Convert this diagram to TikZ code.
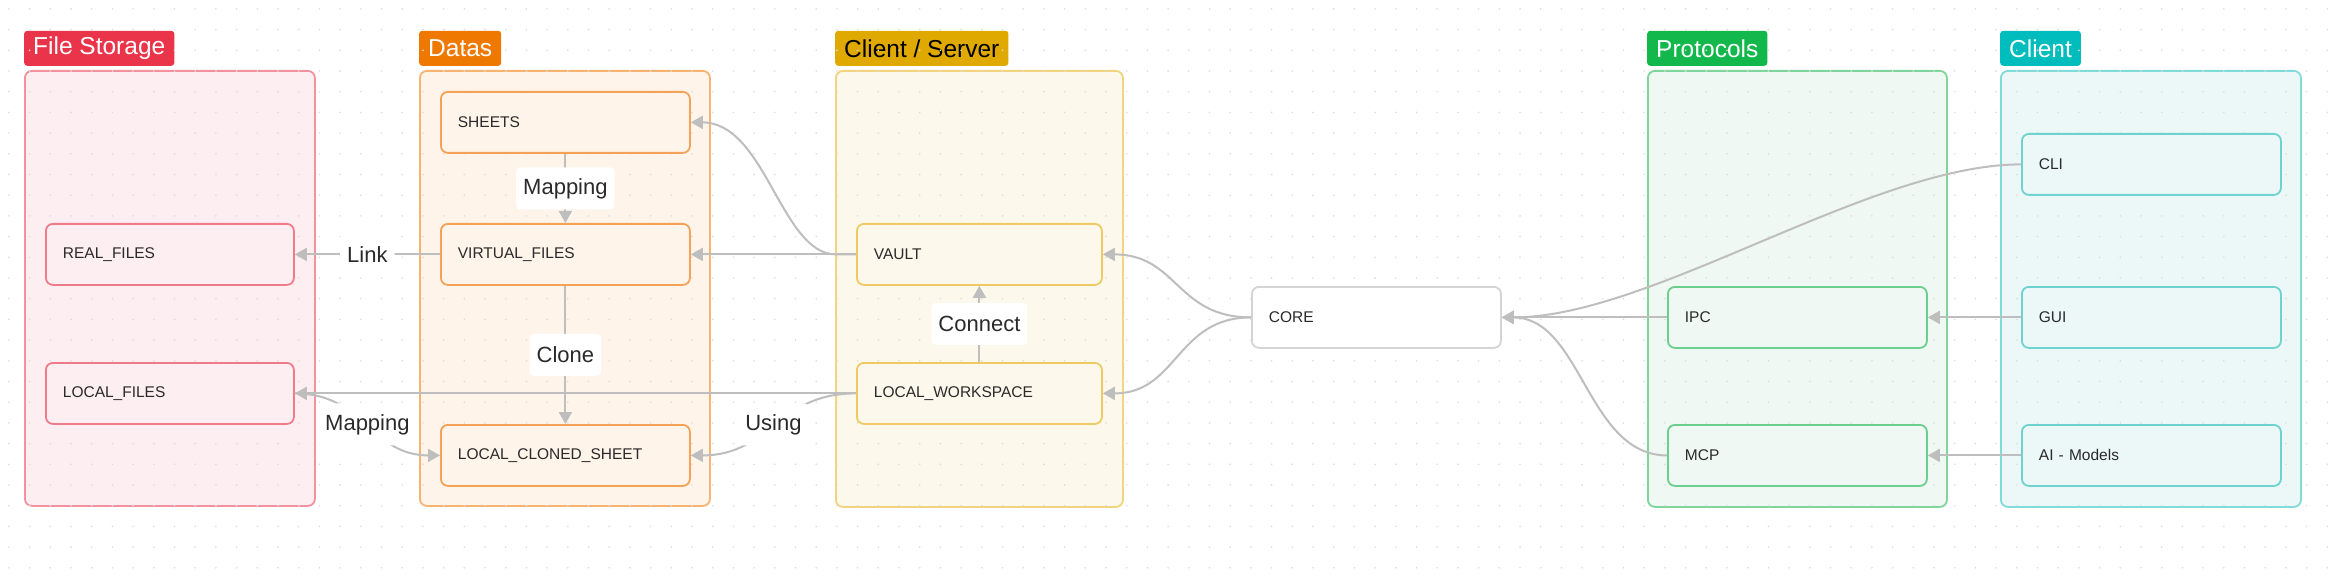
\documentclass[tikz,border=0pt]{standalone}
\usepackage{fontspec}
\setmainfont{Liberation Sans}
\usetikzlibrary{arrows.meta}
\definecolor{edgec}{HTML}{BEBEBE}
\definecolor{dotc}{HTML}{DCDCDC}
\definecolor{txt}{HTML}{2A2A2A}
\definecolor{fsLab}{HTML}{E9344A}
\definecolor{fsFill}{HTML}{FCEEF1}
\definecolor{fsLine}{HTML}{F4919E}
\definecolor{fsNode}{HTML}{F07A8A}
\definecolor{dLab}{HTML}{EF7800}
\definecolor{dFill}{HTML}{FEF4EA}
\definecolor{dLine}{HTML}{F7B471}
\definecolor{dNode}{HTML}{F3A256}
\definecolor{csLab}{HTML}{E0A900}
\definecolor{csFill}{HTML}{FDF8EC}
\definecolor{csLine}{HTML}{F1D47D}
\definecolor{csNode}{HTML}{EECB62}
\definecolor{pLab}{HTML}{12B84B}
\definecolor{pFill}{HTML}{EFF8F2}
\definecolor{pLine}{HTML}{7ED69C}
\definecolor{pNode}{HTML}{6CCF8D}
\definecolor{cLab}{HTML}{00BDBD}
\definecolor{cFill}{HTML}{ECF8F8}
\definecolor{cLine}{HTML}{80DCD8}
\definecolor{cNode}{HTML}{6ED3CF}
\definecolor{coreLine}{HTML}{D4D4D4}
\begin{document}
\begin{tikzpicture}[x=1pt,y=-1pt,
  cont/.style={rounded corners=7pt, line width=1.8pt, anchor=north west, inner sep=0pt},
  grouplab/.style={rounded corners=3pt, anchor=south west, inner xsep=9pt, inner ysep=0pt,
    minimum height=35pt, font=\fontsize{24.5}{28}\selectfont, text=white},
  nd/.style={rounded corners=7pt, line width=1.8pt, anchor=north west, align=left,
    inner xsep=17pt, inner ysep=0pt, minimum height=61pt,
    font=\fontsize{15.5}{18}\selectfont, text=txt},
  ed/.style={draw=edgec, line width=2pt, -{Triangle[length=12pt,width=13pt]}},
  el/.style={fill=white, rounded corners=4pt, inner xsep=7pt, inner ysep=0pt,
    minimum height=42pt, font=\fontsize{22}{26}\selectfont, text=txt}]
\useasboundingbox[fill=white] (0,0) rectangle (2341,585);

% containers
\node[cont, draw=fsLine, fill=fsFill, minimum width=290pt, minimum height=435pt] (fsC) at (24,70) {};
\node[cont, draw=dLine, fill=dFill, minimum width=290pt, minimum height=435pt] (dC) at (419,70) {};
\node[cont, draw=csLine, fill=csFill, minimum width=287pt, minimum height=436pt] (csC) at (835,70) {};
\node[cont, draw=pLine, fill=pFill, minimum width=299pt, minimum height=436pt] (pC) at (1647,70) {};
\node[cont, draw=cLine, fill=cFill, minimum width=300pt, minimum height=436pt] (cC) at (2000,70) {};

% group labels
\node[grouplab, fill=fsLab] (fsL) at (24,66) {File Storage};
\node[grouplab, fill=dLab] (dL) at (419,66) {Datas};
\node[grouplab, fill=csLab, text=black] (csL) at (835,66) {Client / Server};
\node[grouplab, fill=pLab] (pL) at (1647,66) {Protocols};
\node[grouplab, fill=cLab] (cL) at (2000,66) {Client};

% dotted grid
\foreach \i in {0,...,112}
  \foreach \j in {0,...,27}
    \fill[dotc] (8.9+\i*20.7, 8.9+\j*20.7) circle (0.9pt);

% nodes
\node[nd, draw=fsNode, fill=fsFill, text width=214pt] (real) at (45,223) {REAL\_FILES};
\node[nd, draw=fsNode, fill=fsFill, text width=214pt] (local) at (45,362) {LOCAL\_FILES};
\node[nd, draw=dNode, fill=dFill, text width=215pt] (sheets) at (440,91) {SHEETS};
\node[nd, draw=dNode, fill=dFill, text width=215pt] (vf) at (440,223) {VIRTUAL\_FILES};
\node[nd, draw=dNode, fill=dFill, text width=215pt] (lcs) at (440,424) {LOCAL\_CLONED\_SHEET};
\node[nd, draw=csNode, fill=csFill, text width=211pt] (vault) at (856,223) {VAULT};
\node[nd, draw=csNode, fill=csFill, text width=211pt] (lw) at (856,362) {LOCAL\_WORKSPACE};
\node[nd, draw=coreLine, fill=white, text width=215pt] (core) at (1251,286) {CORE};
\node[nd, draw=pNode, fill=pFill, text width=225pt] (ipc) at (1667,286) {IPC};
\node[nd, draw=pNode, fill=pFill, text width=225pt] (mcp) at (1667,424) {MCP};
\node[nd, draw=cNode, fill=cFill, text width=225pt] (cli) at (2021,133) {CLI};
\node[nd, draw=cNode, fill=cFill, text width=225pt] (gui) at (2021,286) {GUI};
\node[nd, draw=cNode, fill=cFill, text width=225pt] (ai) at (2021,424) {AI - Models};

% connectors
\draw[ed] (sheets.south) -- node[el] {Mapping} (vf.north);
\draw[ed] (vf.west) -- node[el] {Link} (real.east);
\draw[ed] (vf.south) -- node[el] {Clone} (lcs.north);
\draw[ed] (lw.north) -- node[el] {Connect} (vault.south);
\draw[ed] (vault.west) -- (vf.east);
\draw[ed] (vault.west) -- ++(-20,0) .. controls +(-55,0) and +(75,0) .. (sheets.east);
\draw[ed] (lw.west) -- (local.east);
\draw[ed] (lw.west) .. controls +(-80,0) and +(80,0) .. node[el] {Using} (lcs.east);
\draw[ed] (local.east) .. controls +(70,0) and +(-70,0) .. node[el] {Mapping} (lcs.west);
\draw[ed] (core.west) .. controls +(-75,0) and +(75,0) .. (vault.east);
\draw[ed] (core.west) .. controls +(-75,0) and +(75,0) .. (lw.east);
\draw[ed] (cli.west) .. controls +(-150,0) and +(150,0) .. (core.east);
\draw[ed] (ipc.west) -- (core.east);
\draw[ed] (mcp.west) .. controls +(-80,0) and +(80,0) .. (core.east);
\draw[ed] (gui.west) -- (ipc.east);
\draw[ed] (ai.west) -- (mcp.east);
\end{tikzpicture}
\end{document}
